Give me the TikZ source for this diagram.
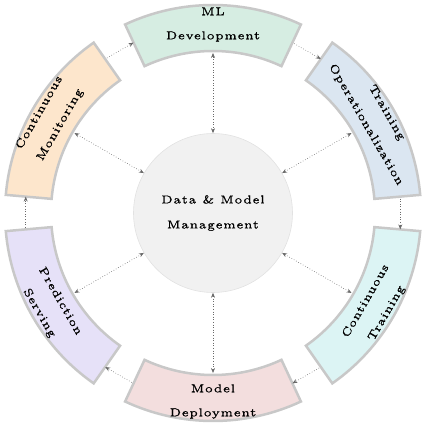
\documentclass[tikz,border=0pt]{standalone}
\usepackage{fontspec}
\newfontfamily\labfont{lmroman5-regular}[Extension=.otf,LetterSpace=5,FakeBold=0.8]
\usetikzlibrary{arrows.meta}
\definecolor{secborder}{HTML}{C8C8C8}
\definecolor{arrowgray}{HTML}{6A6A6A}
\definecolor{mlgreen}{HTML}{D6EDE2}
\definecolor{tblue}{HTML}{DBE6F1}
\definecolor{ctcyan}{HTML}{DCF4F4}
\definecolor{mdpink}{HTML}{F3DEDE}
\definecolor{pslav}{HTML}{E6E1F8}
\definecolor{cmpeach}{HTML}{FDE6CC}
\definecolor{corefill}{HTML}{F1F1F1}
\definecolor{coreborder}{HTML}{E2E2E2}
\begin{document}
\begin{tikzpicture}[x=1pt,y=1pt,
  sector/.style={draw=secborder,line width=2.5pt,line join=miter},
  lab/.style={font=\labfont\fontsize{11.5}{24}\selectfont,align=center,inner sep=0pt},
  flow/.style={draw=arrowgray,dotted,line width=0.6pt,-{Stealth[length=5pt,width=4pt]}},
  spoke/.style={draw=arrowgray,dotted,line width=0.6pt,{Stealth[length=5pt,width=4pt]}-{Stealth[length=5pt,width=4pt]}},
]
\useasboundingbox (0,0) rectangle (426,426);
\begin{scope}[shift={(213,213)}]
  % sectors
  \foreach \a/\c in {90/mlgreen,30/tblue,-30/ctcyan,-90/mdpink,-150/pslav,150/cmpeach}{
    \path[sector,fill=\c] (\a-25:162pt) arc[start angle=\a-25,end angle=\a+25,radius=162pt]
      -- (\a+25:208pt) arc[start angle=\a+25,end angle=\a-25,radius=208pt] -- cycle;
  }
  % sector labels
  \node[lab] (t1) at (90:188.5pt) {ML\\Development};
  \node[lab,rotate=-60] (t2) at (30:188.5pt) {Training\\Operationalization};
  \node[lab,rotate=60] (t3) at (-30:188.5pt) {Continuous\\Training};
  \node[lab] (t4) at (-90:188.5pt) {Model\\Deployment};
  \node[lab,rotate=-60] (t5) at (-150:188.5pt) {Prediction\\Serving};
  \node[lab,rotate=60] (t6) at (150:188.5pt) {Continuous\\Monitoring};
  % core
  \node[circle,minimum size=159pt,fill=corefill,draw=coreborder,line width=0.6pt,
        font=\labfont\fontsize{11.5}{25}\selectfont,align=center,inner sep=0pt] (c) at (0,0)
        {Data \& Model\\Management};
  % anchor points on the sectors
  \foreach \a/\n in {90/1,30/2,-30/3,-90/4,-150/5,150/6}{
    \coordinate (in\n) at (\a:160pt);
    \coordinate (s\n) at (\a+25:188pt);
    \coordinate (e\n) at (\a-25:188pt);
  }
  % spokes
  \foreach \a/\n in {90/1,30/2,-30/3,-90/4,-150/5,150/6}{
    \draw[spoke] (c.\a) -- (in\n);
  }
  % cycle flow
  \draw[flow,shorten <=2pt] (e1) -- (s2);
  \draw[flow,shorten <=2pt] (e2) -- (s3);
  \draw[flow,shorten <=2pt] (e3) -- (s4);
  \draw[flow,shorten <=2pt] (e4) -- (s5);
  \draw[flow,shorten <=2pt] (e5) -- (s6);
  \draw[flow,shorten <=2pt] (e6) -- (s1);
\end{scope}
\end{tikzpicture}
\end{document}
